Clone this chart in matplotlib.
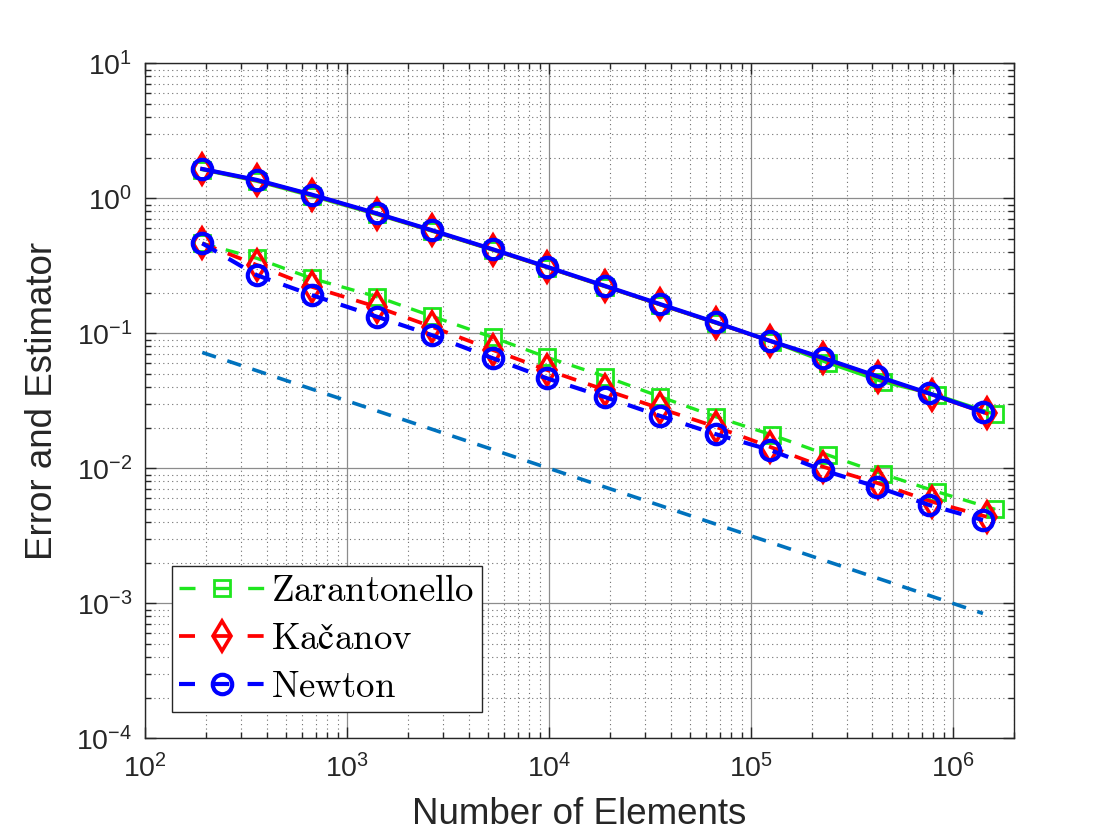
import numpy as np
import matplotlib
matplotlib.use("Agg")
import matplotlib.pyplot as plt
from matplotlib.font_manager import FontProperties
from matplotlib.lines import Line2D

plt.rcParams['font.family'] = ['Liberation Sans', 'DejaVu Sans']
plt.rcParams['axes.unicode_minus'] = False

# number of elements
n_newton = [192, 357, 670, 1403, 2630, 5285, 9790, 19060, 35400, 67100,
            124000, 226600, 419600, 765000, 1410000]
n_kacanov = [192, 357, 670, 1403, 2630, 5285, 9790, 19060, 35400, 67100,
             124000, 226600, 428000, 787000, 1470000]
n_zaran = [192, 357, 670, 1403, 2630, 5285, 9790, 19060, 35400, 67100,
           127000, 240000, 450000, 832000, 1620000]

# estimator (solid)
est_newton = [1.65, 1.37, 1.065, 0.774, 0.581, 0.419, 0.311, 0.224, 0.165, 0.1205,
              0.0881, 0.0659, 0.0483, 0.0359, 0.0262]
est_kacanov = [1.65, 1.36, 1.06, 0.77, 0.578, 0.417, 0.309, 0.223, 0.164, 0.120,
               0.0878, 0.0655, 0.0475, 0.0352, 0.0255]
est_zaran = [1.63, 1.34, 1.04, 0.76, 0.572, 0.413, 0.307, 0.221, 0.163, 0.119,
             0.087, 0.0605, 0.0438, 0.0349, 0.0251]

# error (dashed)
err_newton = [0.464, 0.270, 0.192, 0.133, 0.097, 0.0653, 0.0464, 0.0336, 0.0245, 0.0179,
              0.0137, 0.0097, 0.00731, 0.00535, 0.00414]
err_kacanov = [0.464, 0.321, 0.221, 0.157, 0.112, 0.0752, 0.0535, 0.038, 0.0278, 0.0203,
               0.01445, 0.0103, 0.00774, 0.00566, 0.00438]
err_zaran = [0.464, 0.360, 0.255, 0.187, 0.134, 0.0933, 0.0664, 0.0478, 0.034, 0.0241,
             0.0177, 0.01257, 0.00908, 0.00672, 0.00497]

# slope -1/2 reference line
ref_n = [192, 1410000]
ref_val = [0.0722, 0.000842]

labels = [r'$\mathrm{Zarantonello}$', r'$\mathrm{Kačanov}$', r'$\mathrm{Newton}$']

green = '#1ee61e'
red = '#ff0000'
blue = '#0000ff'

fig = plt.figure(figsize=(11.2, 8.4), dpi=100)
ax = fig.add_axes([0.1295, 0.121, 0.7755, 0.8036])

dash = (0, (4, 3.3))

ax.loglog(n_zaran, est_zaran, '-', color=green, lw=2.4, marker='s', ms=11,
          mfc='none', mew=2.0)
ax.loglog(n_zaran, err_zaran, linestyle=dash, color=green, lw=2.4, marker='s', ms=11,
          mfc='none', mew=2.0)
ax.loglog(n_kacanov, est_kacanov, '-', color=red, lw=2.7, marker='d', ms=15,
          mfc='none', mew=2.6)
ax.loglog(n_kacanov, err_kacanov, linestyle=dash, color=red, lw=2.7, marker='d', ms=15,
          mfc='none', mew=2.6)
ax.loglog(n_newton, est_newton, '-', color=blue, lw=3.0, marker='o', ms=14,
          mfc='none', mew=3.0)
ax.loglog(n_newton, err_newton, linestyle=dash, color=blue, lw=3.0, marker='o', ms=14,
          mfc='none', mew=3.0)
ax.loglog(ref_n, ref_val, linestyle=dash, color='#0072BD', lw=2.6)

ax.set_xlim(1e2, 2e6)
ax.set_ylim(1e-4, 1e1)

ax.grid(True, which='major', color='#8c8c8c', linestyle='-', linewidth=0.9)
ax.grid(True, which='minor', color='#6e6e6e', linestyle=(0, (1, 3)), linewidth=0.8)

ax.tick_params(which='both', direction='in', top=True, right=True,
               labelsize=20.5, colors='#262626', width=1.0)
ax.tick_params(which='major', length=8)
ax.tick_params(which='minor', length=4)
ax.tick_params(axis='x', which='major', pad=11)
ax.tick_params(axis='y', which='major', pad=9)
for s in ax.spines.values():
    s.set_color('#262626')
    s.set_linewidth(1.0)

ax.set_xlabel('Number of Elements', fontsize=26.5, color='#262626', labelpad=10)
ax.set_ylabel('Error and Estimator', fontsize=26.5, color='#262626', labelpad=12)

# legend entries: dash - marker - dash, like the original
handles = [
    Line2D([], [], color=green, lw=2.4, linestyle=(0, (4.8, 5.5)), marker='s',
           ms=11, mfc='none', mew=2.0),
    Line2D([], [], color=red, lw=2.7, linestyle=(0, (4.27, 4.88)), marker='d',
           ms=15, mfc='none', mew=2.6),
    Line2D([], [], color=blue, lw=3.0, linestyle=(0, (3.84, 4.39)), marker='o',
           ms=14, mfc='none', mew=3.0),
]
leg_font = FontProperties(size=26.5, math_fontfamily='cm')
leg = ax.legend(handles, labels, loc='lower left', prop=leg_font, handlelength=2.3,
                numpoints=1, fancybox=False, framealpha=1, edgecolor='#262626',
                bbox_to_anchor=(0.031, 0.0385), borderaxespad=0,
                handletextpad=0.2, labelspacing=0.36, borderpad=0.2)
leg.get_frame().set_linewidth(1.0)

fig.savefig('out.png', dpi=100)
